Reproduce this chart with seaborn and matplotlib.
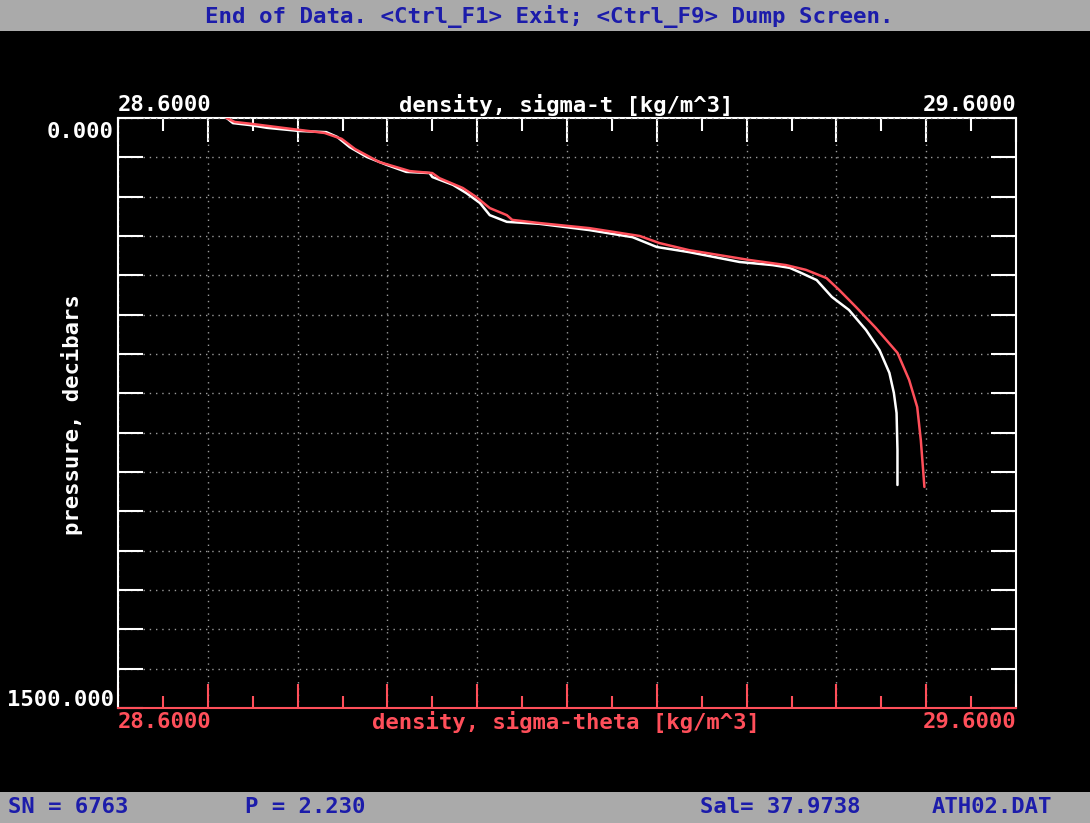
import matplotlib
matplotlib.use("Agg")
import matplotlib.pyplot as plt
import matplotlib.ticker as ticker
from matplotlib.patches import Rectangle
import seaborn as sns
import pandas as pd

# sigma-t profile (white, top axis)
sigma_t = [28.721, 28.728, 28.747, 28.766, 28.802, 28.832, 28.844, 28.858, 28.877, 28.899,
           28.921, 28.947, 28.950, 28.973, 28.988, 29.003, 29.014, 29.033, 29.069, 29.125,
           29.173, 29.200, 29.236, 29.292, 29.329, 29.348, 29.359, 29.378, 29.395, 29.414,
           29.433, 29.448, 29.459, 29.464, 29.467, 29.468, 29.468]
pres_t = [0, 13, 18, 25, 33, 36, 48, 74, 99, 119,
          137, 140, 150, 170, 191, 216, 247, 264, 269, 285,
          303, 328, 341, 366, 374, 381, 392, 412, 455, 488,
          539, 590, 648, 699, 750, 844, 933]

# sigma-theta profile (red, bottom axis)
sigma_theta = [28.721, 28.730, 28.749, 28.794, 28.830, 28.849, 28.864, 28.891, 28.925, 28.950,
               28.958, 28.984, 28.999, 29.014, 29.033, 29.039, 29.069, 29.125, 29.181, 29.203,
               29.236, 29.303, 29.344, 29.366, 29.389, 29.403, 29.422, 29.444, 29.468, 29.481,
               29.490, 29.494, 29.498]
pres_theta = [0, 10, 15, 28, 38, 53, 79, 112, 135, 140,
              153, 178, 201, 229, 247, 259, 267, 280, 300, 318,
              336, 361, 374, 386, 407, 437, 481, 534, 597, 666,
              735, 819, 938]

x_range = [28.6, 29.6]
p_range = [0, 1500]
x_tick_labels = ["28.6000", "29.6000"]
p_tick_labels = ["0.000", "1500.000"]
status_items = ["SN = 6763", "P = 2.230", "Sal= 37.9738", "ATH02.DAT"]
header = "End of Data. <Ctrl_F1> Exit; <Ctrl_F9> Dump Screen."

RED = "#ff4f5a"
GREY = "#aaaaaa"
BLUE = "#1c1caa"
W, H = 1090, 823

sns.set_theme(style="dark")
plt.rcParams['font.family'] = ['DejaVu Sans Mono', 'DejaVu Sans']

def fx(px):
    return px / W

def fy(py):
    return 1 - py / H

fig = plt.figure(figsize=(W / 100, H / 100), dpi=100, facecolor="black")
ax = fig.add_axes([fx(118), fy(708), (1016 - 118) / W, (708 - 118) / H])
ax.set_facecolor("black")

df_t = pd.DataFrame({"density": sigma_t, "pressure": pres_t})
df_th = pd.DataFrame({"density": sigma_theta, "pressure": pres_theta})
sns.lineplot(data=df_t, x="density", y="pressure", sort=False, estimator=None,
             color="white", lw=1.8, ax=ax, zorder=3)
sns.lineplot(data=df_th, x="density", y="pressure", sort=False, estimator=None,
             color=RED, lw=1.8, ax=ax, zorder=4)

ax.set_xlim(x_range)
ax.set_ylim(p_range[1], p_range[0])
ax.set_xlabel("")
ax.set_ylabel("")

ax.xaxis.set_major_locator(ticker.MultipleLocator(0.1))
ax.xaxis.set_minor_locator(ticker.MultipleLocator(0.05))
ax.yaxis.set_major_locator(ticker.MultipleLocator(100))

ax.grid(True, which="major", color="#9a9a9a", lw=1.0, linestyle=(0, (1, 3.5)), zorder=1)

# bottom axis (sigma-theta), red
ax.tick_params(axis="x", which="major", direction="in", length=17.5, width=1.5, color=RED,
               bottom=True, top=False, labelbottom=False, labeltop=False)
ax.tick_params(axis="x", which="minor", direction="in", length=9, width=1.5, color=RED,
               bottom=True, top=False)
ax.tick_params(axis="y", which="major", direction="in", length=18, width=1.5, color="white",
               left=True, right=True, labelleft=False, labelright=False)

for side in ["left", "right"]:
    ax.spines[side].set_color("white")
    ax.spines[side].set_linewidth(1.5)
ax.spines["bottom"].set_color(RED)
ax.spines["bottom"].set_linewidth(1.5)
ax.spines["top"].set_visible(False)

# top axis (sigma-t), white
sec = ax.secondary_xaxis("top")
sec.xaxis.set_major_locator(ticker.MultipleLocator(0.1))
sec.xaxis.set_minor_locator(ticker.MultipleLocator(0.05))
sec.tick_params(axis="x", which="major", direction="in", length=17.5, width=1.5,
                color="white", labeltop=False)
sec.tick_params(axis="x", which="minor", direction="in", length=9, width=1.5, color="white")
sec.spines["top"].set_color("white")
sec.spines["top"].set_linewidth(1.5)

fs = 16
# axis end labels and titles
fig.text(fx(118), fy(105), x_tick_labels[0], color="white", fontsize=fs, fontweight="bold",
         ha="left", va="center")
fig.text(fx(1016), fy(105), x_tick_labels[1], color="white", fontsize=fs, fontweight="bold",
         ha="right", va="center")
fig.text(fx(566), fy(105), "density, sigma-t [kg/m^3]", color="white", fontsize=fs,
         fontweight="bold", ha="center", va="center")

fig.text(fx(118), fy(722), x_tick_labels[0], color=RED, fontsize=fs, fontweight="bold",
         ha="left", va="center")
fig.text(fx(1016), fy(722), x_tick_labels[1], color=RED, fontsize=fs, fontweight="bold",
         ha="right", va="center")
fig.text(fx(566), fy(722), "density, sigma-theta [kg/m^3]", color=RED, fontsize=fs,
         fontweight="bold", ha="center", va="center")

fig.text(fx(113), fy(132), p_tick_labels[0], color="white", fontsize=fs, fontweight="bold",
         ha="right", va="center")
fig.text(fx(114), fy(700), p_tick_labels[1], color="white", fontsize=fs, fontweight="bold",
         ha="right", va="center")
fig.text(fx(72), fy(415), "pressure, decibars", color="white", fontsize=fs, fontweight="bold",
         ha="center", va="center", rotation=90)

# status bars
fig.add_artist(Rectangle((0, fy(31)), 1, 31 / H, transform=fig.transFigure,
                         facecolor=GREY, edgecolor="none"))
fig.add_artist(Rectangle((0, 0), 1, (H - 792) / H, transform=fig.transFigure,
                         facecolor=GREY, edgecolor="none"))
fig.text(fx(549), fy(16), header, color=BLUE, fontsize=16.2, fontweight="bold",
         ha="center", va="center")
for item, px in zip(status_items, [8, 245, 700, 932]):
    fig.text(fx(px), fy(807), item, color=BLUE, fontsize=16, fontweight="bold",
             ha="left", va="center")

fig.savefig("out.png", dpi=100, facecolor="black")
